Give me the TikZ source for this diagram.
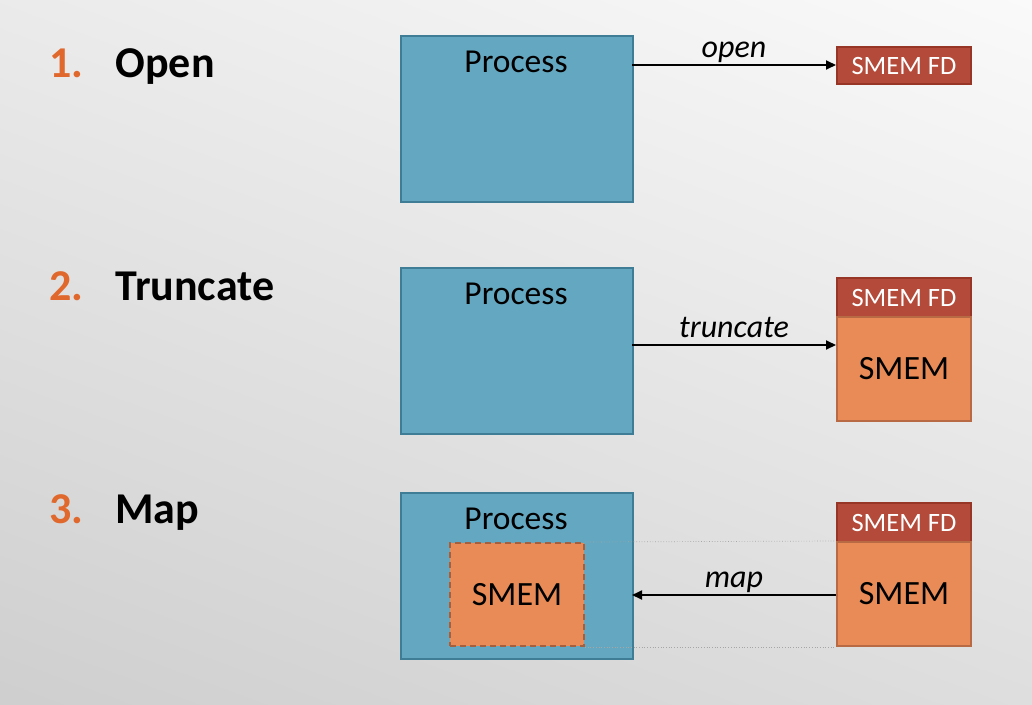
\documentclass[tikz,border=0pt]{standalone}
\usepackage{fontspec}
\setmainfont{Carlito}
\usetikzlibrary{arrows.meta,shadings}
\definecolor{procfill}{HTML}{64A7C0}
\definecolor{procdraw}{HTML}{3E7D95}
\definecolor{fdfill}{HTML}{B34A3A}
\definecolor{fddraw}{HTML}{973626}
\definecolor{smfill}{HTML}{E88B56}
\definecolor{smdraw}{HTML}{B86A44}
\definecolor{numcol}{HTML}{E0682C}
\tikzset{
  procbox/.style={draw=procdraw, fill=procfill, line width=2pt, anchor=north west, inner sep=0pt},
  fdbox/.style={draw=fddraw, fill=fdfill, line width=2pt, anchor=north west, inner sep=0pt, minimum width=134pt, text=white, font=\fontsize{26.5}{28}\selectfont},
  smbox/.style={draw=smdraw, fill=smfill, line width=2pt, anchor=north west, inner sep=0pt, minimum width=134pt, font=\fontsize{34}{36}\selectfont},
  proclabel/.style={font=\fontsize{33.5}{36}\selectfont, anchor=base},
  arrowlabel/.style={font=\itshape\fontsize{32}{34}\selectfont, anchor=base, yshift=8pt},
  conn/.style={line width=1.8pt, -{Triangle[length=10pt,width=9pt]}},
  num/.style={text=numcol, font=\bfseries\fontsize{44}{46}\selectfont, anchor=base west},
  step title/.style={font=\bfseries\fontsize{44}{46}\selectfont, anchor=base west},
  guide/.style={gray!70, line width=0.7pt, dotted}
}
\begin{document}
\begin{tikzpicture}[x=1pt,y=-1pt]
\shade[upper left=black!8, upper right=black!2, lower left=black!19, lower right=black!13] (0,0) rectangle (1032,704);
\useasboundingbox (0,0) rectangle (1032,704);

% Step labels
\node[num] (n1) at (46,77) {1.};
\node[step title] (t1) at (112,77) {Open};
\node[num] (n2) at (46,300) {2.};
\node[step title] (t2) at (112,300) {Truncate};
\node[num] (n3) at (46,523) {3.};
\node[step title] (t3) at (112,523) {Map};

% Row 1
\node[procbox, minimum width=232pt, minimum height=166pt] (p1) at (400,35) {};
\node[proclabel] (p1l) at (516,72) {Process};
\node[fdbox, minimum height=37pt] (fd1) at (836,46) {SMEM FD};
\coordinate (a1s) at (632,65);
\draw[conn] (a1s) -- (a1s -| fd1.west) node[midway, arrowlabel] (l1) {open};

% Row 2
\node[procbox, minimum width=232pt, minimum height=166pt] (p2) at (400,267) {};
\node[proclabel] (p2l) at (516,304) {Process};
\node[fdbox, minimum height=39pt] (fd2) at (836,277) {SMEM FD};
\node[smbox, minimum height=104pt] (sm2) at (836,316) {SMEM};
\coordinate (a2s) at (632,345);
\draw[conn] (a2s) -- (a2s -| sm2.west) node[midway, arrowlabel] (l2) {truncate};

% Row 3
\node[procbox, minimum width=232pt, minimum height=166pt] (p3) at (400,492) {};
\node[proclabel] (p3l) at (516,529) {Process};
\node[smbox, minimum height=103pt, dashed, dash pattern=on 6pt off 4pt, draw=smdraw!90!black] (sm3in) at (449,542) {SMEM};
\node[fdbox, minimum height=39pt] (fd3) at (836,502) {SMEM FD};
\node[smbox, minimum height=104pt] (sm3) at (836,541) {SMEM};
\draw[guide] (sm3in.north east) -- (sm3.north west);
\draw[guide] (sm3in.south east) -- (sm3.south west);
\coordinate (a3e) at (632,595);
\draw[conn] (sm3.west |- a3e) -- (a3e) node[midway, arrowlabel] (l3) {map};
\end{tikzpicture}
\end{document}
